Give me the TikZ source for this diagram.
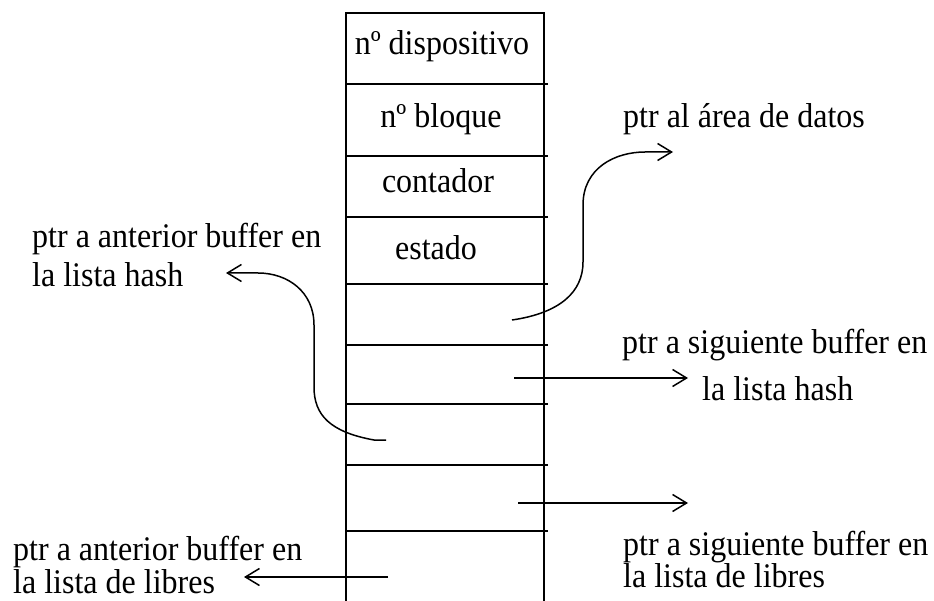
\documentclass[tikz,border=0pt]{standalone}
\usepackage{fontspec}
\setmainfont{Liberation Serif}
\usetikzlibrary{arrows.meta}
\newcommand{\vstretch}[1]{\scalebox{1}[1.08]{#1}}
\begin{document}
\begin{tikzpicture}[x=1pt,y=-1pt,
  line/.style={line width=1.5pt},
  ptrarrow/.style={line width=1.5pt,-{Straight Barb[length=14pt,width=17pt,line width=1.5pt]}},
  lbl/.style={inner sep=0pt,anchor=base west,font=\fontsize{32}{38}\selectfont},
  fld/.style={inner sep=0pt,anchor=base,font=\fontsize{32}{38}\selectfont}]
\useasboundingbox (0,0) rectangle (934,601);
% box
\coordinate (tl) at (346,13);
\coordinate (tr) at (544,13);
\coordinate (bl) at (346,601);
\coordinate (br) at (544,601);
\draw[line] (bl) -- (tl) -- (tr) -- (br);
\foreach \yy in {84,156,217,284,345,404,465,531}
  \draw[line] (346,\yy) -- (548,\yy);
% field labels
\node[fld] (f1) at (442,55) {\vstretch{nº dispositivo}};
\node[fld] (f2) at (441,128) {\vstretch{nº bloque}};
\node[fld] (f3) at (438,193) {\vstretch{contador}};
\node[fld] (f4) at (436,260) {\vstretch{estado}};
% side labels
\node[lbl] (datos) at (623,128) {\vstretch{ptr al área de datos}};
\node[lbl] (antH1) at (32,248) {\vstretch{ptr a anterior buffer en}};
\node[lbl] (antH2) at (32,287) {\vstretch{la lista hash}};
\node[lbl] (sigH1) at (622,353) {\vstretch{ptr a siguiente buffer en}};
\node[lbl] (sigH2) at (702,400) {\vstretch{la lista hash}};
\node[lbl] (sigL1) at (623,555) {\vstretch{ptr a siguiente buffer en}};
\node[lbl] (sigL2) at (623,587) {\vstretch{la lista de libres}};
\node[lbl] (antL1) at (13,560) {\vstretch{ptr a anterior buffer en}};
\node[lbl] (antL2) at (13,593) {\vstretch{la lista de libres}};
% pointer coordinates
\coordinate (dS) at (512,320);
\coordinate (dE) at (673,152);
\coordinate (hS) at (386,440);
\coordinate (hE) at (226,273);
\coordinate (shS) at (514,378);
\coordinate (shE) at (688,378);
\coordinate (slS) at (518,503);
\coordinate (slE) at (688,503);
\coordinate (alS) at (388,577);
\coordinate (alE) at (244,577);
% arrows
\draw[ptrarrow] (dS) .. controls (560,313) and (583,292) .. (583,262)
  -- (583,205) .. controls (583,168) and (615,152) .. (645,152) -- (dE);
\draw[ptrarrow] (hS) -- (374,440) .. controls (330,432) and (314,415) .. (314,387)
  -- (314,325) .. controls (314,292) and (288,273) .. (258,273) -- (hE);
\draw[ptrarrow] (shS) -- (shE);
\draw[ptrarrow] (slS) -- (slE);
\draw[ptrarrow] (alS) -- (alE);
\end{tikzpicture}
\end{document}
